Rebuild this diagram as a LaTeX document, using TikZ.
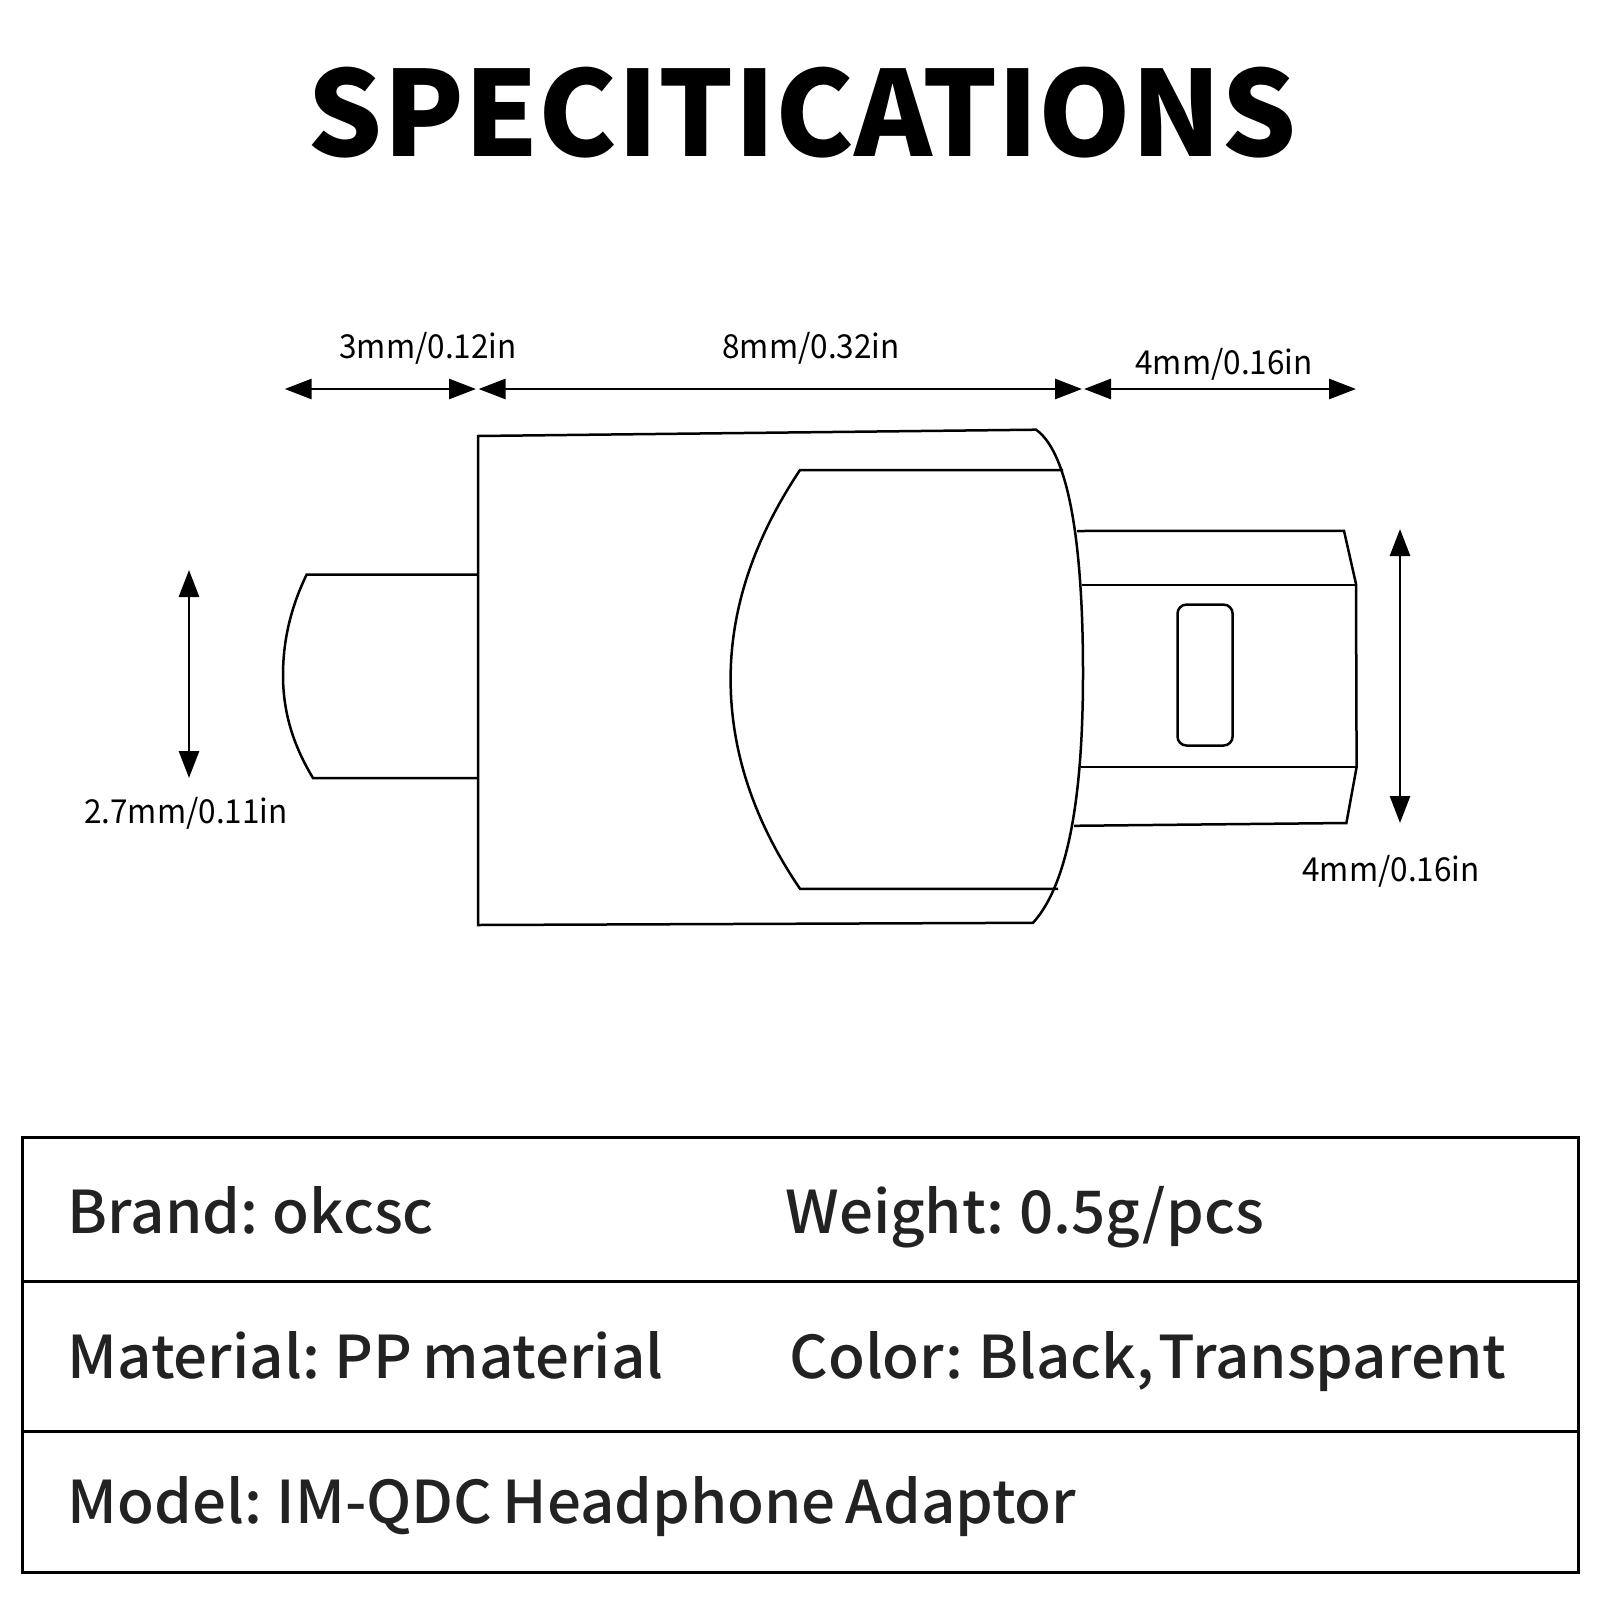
\documentclass[tikz,border=0pt]{standalone}
\usepackage{fontspec}
\setmainfont{Noto Sans CJK SC}
\newfontfamily\dimfont[FakeStretch=0.955]{Noto Sans CJK SC}
\newfontfamily\cellfont[FakeStretch=1.017,WordSpace=0.75]{Noto Sans CJK SC Medium}
\usetikzlibrary{arrows.meta}
\definecolor{tabletext}{HTML}{222222}
\tikzset{
  px/.style={x=0.5pt,y=-0.5pt},
  outline/.style={line width=1.25pt,line join=miter,black},
  dimline/.style={line width=1.4pt,black,{Triangle[length=13.5pt,width=10pt]}-{Triangle[length=13.5pt,width=10pt]},shorten <=0pt,shorten >=0pt},
  tableline/.style={line width=1.5pt,black},
  titletext/.style={anchor=base,inner sep=0pt,font=\fontsize{59}{66}\selectfont\bfseries,text=black},
  dimtext/.style={anchor=base,inner sep=0pt,font=\dimfont\fontsize{16.5}{20}\selectfont,text=black},
  celltext/.style={anchor=base west,inner sep=0pt,font=\cellfont\fontsize{29.5}{34}\selectfont,text=tabletext}
}
\begin{document}
\begin{tikzpicture}[px]
\useasboundingbox (0,0) rectangle (1600,1600);
\fill[white] (0,0) rectangle (1600,1600);

\node[titletext] (title) at (802.5,156.5) {SPECITICATIONS};

% dimension end points
\coordinate (a1) at (284.7,389); \coordinate (a2) at (476,389);
\coordinate (b1) at (478.6,389); \coordinate (b2) at (1082,389);
\coordinate (c1) at (1084,389); \coordinate (c2) at (1356,389);
\coordinate (d1) at (189,570); \coordinate (d2) at (189,778);
\coordinate (e1) at (1400,529); \coordinate (e2) at (1400,823);
\draw[dimline] (a1) -- (a2);
\draw[dimline] (b1) -- (b2);
\draw[dimline] (c1) -- (c2);
\draw[dimline] (d1) -- (d2);
\draw[dimline] (e1) -- (e2);

\node[dimtext] (la) at (428,358) {3mm/0.12in};
\node[dimtext] (lb) at (811,358) {8mm/0.32in};
\node[dimtext] (lc) at (1224,374.6) {4mm/0.16in};
\node[dimtext] (ld) at (186,823) {2.7mm/0.11in};
\node[dimtext] (le) at (1391,881) {4mm/0.16in};

% left stub
\draw[outline] (477,574.6) -- (306.6,574.6)
  .. controls (291,607) and (283,640) .. (283,675)
  .. controls (283,712) and (293,745) .. (313,778) -- (478,778);

% body
\draw[outline] (1083,673) .. controls (1083,560) and (1072,455) .. (1036,429.7)
  -- (478,436) -- (478,925) -- (1033,922.8)
  .. controls (1072,880) and (1083,780) .. (1083,673);

% inner panel
\draw[outline] (1063,470) -- (800,470)
  .. controls (760,530) and (730.6,600) .. (730.6,679)
  .. controls (730.6,760) and (760,830) .. (800,888.8) -- (1058,888.8);

% right plug
\draw[outline] (1077,531) -- (1344,530.8) -- (1356,584) -- (1356.6,767) -- (1346.4,823) -- (1074,825.8);
\draw[outline] (1081.6,585) -- (1356,585);
\draw[outline] (1080.6,767) -- (1356.6,767);
\draw[outline,rounded corners=4.5pt] (1177.5,604.6) rectangle (1232.6,745.5);

% table
\draw[tableline] (22.4,1137.5) rectangle (1578.6,1572);
\draw[tableline] (22.4,1281.5) -- (1578.6,1281.5);
\draw[tableline] (22.4,1431.7) -- (1578.6,1431.7);

\node[celltext] (brand) at (67.5,1233) {Brand: okcsc};
\node[celltext] (weight) at (785,1233) {Weight: 0.5g/pcs};
\node[celltext] (material) at (67.5,1378) {Material: PP material};
\node[celltext] (color) at (789,1378) {Color: Black,\kern2pt Transparent};
\node[celltext] (model) at (67.5,1523) {Model: IM-QDC Headphone Adaptor};
\end{tikzpicture}
\end{document}
